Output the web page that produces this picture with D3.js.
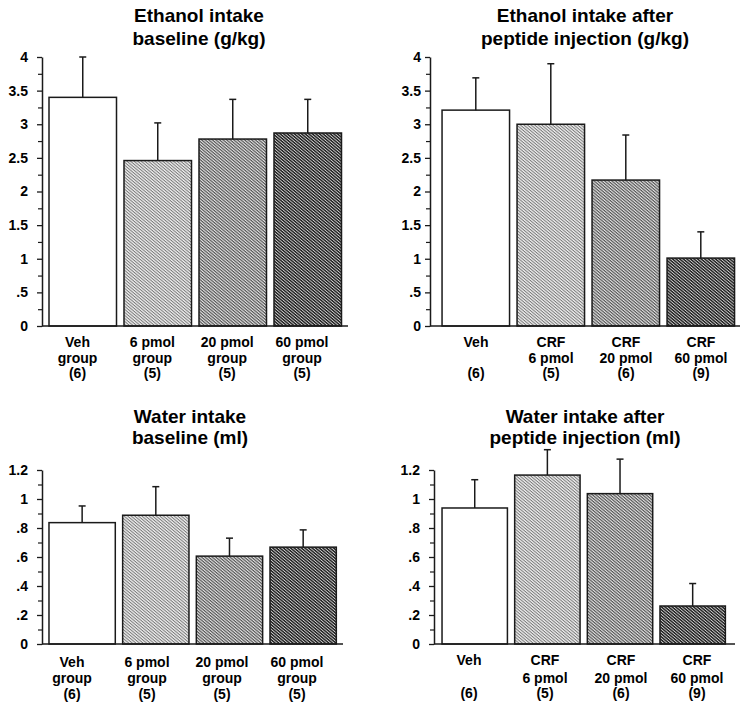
<!DOCTYPE html>
<html>
<head>
<meta charset="utf-8">
<script src="https://cdn.jsdelivr.net/npm/d3@7"></script>
<style>
  html, body { margin: 0; padding: 0; background: #fff; }
  svg { display: block; font-family: "Liberation Sans", Arial, Helvetica, sans-serif; }
</style>
</head>
<body>
<svg id="chart" width="746" height="710"></svg>
<script>
// ---------- data ----------
const categories = ["Veh", "6 pmol", "20 pmol", "60 pmol"];

const labelsBaseline = [["Veh", "group", "(6)"], ["6 pmol", "group", "(5)"], ["20 pmol", "group", "(5)"], ["60 pmol", "group", "(5)"]];
const labelsEthAfter = [["Veh", "", "(6)"], ["CRF", "6 pmol", "(5)"], ["CRF", "20 pmol", "(6)"], ["CRF", "60 pmol", "(9)"]];
const labelsWaterAfter = [["Veh", "", "(6)"], ["CRF", "6 pmol", "(5)"], ["CRF", "20 pmol", "(6)"], ["CRF", "60 pmol", "(9)"]];

const ethBaseMean = [3.40, 2.46, 2.78, 2.87];
const ethBaseSem  = [0.60, 0.56, 0.59, 0.50];
const ethAfterMean = [3.21, 3.00, 2.17, 1.01];
const ethAfterSem  = [0.48, 0.90, 0.67, 0.39];
const waterBaseMean = [0.837, 0.888, 0.606, 0.668];
const waterBaseSem  = [0.115, 0.197, 0.124, 0.119];
const waterAfterMean = [0.938, 1.165, 1.037, 0.262];
const waterAfterSem  = [0.195, 0.175, 0.238, 0.155];

const ethTicks = [0, 0.5, 1, 1.5, 2, 2.5, 3, 3.5, 4];
const ethTickLabels = ["0", ".5", "1", "1.5", "2", "2.5", "3", "3.5", "4"];
const ethMinor = [0.25, 0.75, 1.25, 1.75, 2.25, 2.75, 3.25, 3.75];
const waterTicks = [0, 0.2, 0.4, 0.6, 0.8, 1.0, 1.2];
const waterTickLabels = ["0", ".2", ".4", ".6", ".8", "1", "1.2"];
const waterMinor = [0.1, 0.3, 0.5, 0.7, 0.9, 1.1];

const titleEthBase = ["Ethanol intake", "baseline (g/kg)"];
const titleEthAfter = ["Ethanol intake after", "peptide injection (g/kg)"];
const titleWaterBase = ["Water intake", "baseline (ml)"];
const titleWaterAfter = ["Water intake after", "peptide injection (ml)"];

// ---------- drawing ----------
const svg = d3.select("#chart");
const defs = svg.append("defs");

function makePattern(id, bg, fg, sw) {
  const p = defs.append("pattern")
    .attr("id", id).attr("patternUnits", "userSpaceOnUse")
    .attr("width", 4).attr("height", 2.3)
    .attr("patternTransform", "rotate(40)");
  p.append("rect").attr("width", 4).attr("height", 2.3).attr("fill", bg);
  p.append("rect").attr("y", 0).attr("width", 4).attr("height", sw).attr("fill", fg);
}
makePattern("hatchLight", "#eeeeee", "#7a7a7a", 1.0);
makePattern("hatchMed", "#e0e0e0", "#555555", 1.15);
makePattern("hatchDark", "#cccccc", "#1a1a1a", 1.35);
const fills = ["#ffffff", "url(#hatchLight)", "url(#hatchMed)", "url(#hatchDark)"];

function panel(cfg) {
  const g = svg.append("g");
  const y = d3.scaleLinear().domain(cfg.domain).range([cfg.y0, cfg.y1]);
  const x = d3.scaleBand().domain(categories).range(cfg.xr).paddingInner(0.1).paddingOuter(0.05);
  const xl = d3.scalePoint().domain(categories).range(cfg.lr);

  // title
  cfg.title.forEach((t, i) => {
    g.append("text").attr("x", cfg.tx).attr("y", cfg.ty[i])
      .attr("text-anchor", "middle").attr("font-weight", "bold")
      .attr("font-size", 19).attr("fill", "#000").text(t);
  });

  // bars
  g.selectAll("rect.bar").data(cfg.mean).join("rect").attr("class", "bar")
    .attr("x", (d, i) => x(categories[i]))
    .attr("width", x.bandwidth())
    .attr("y", d => y(d))
    .attr("height", d => y(0) - y(d))
    .attr("fill", (d, i) => fills[i])
    .attr("stroke", "#1a1a1a").attr("stroke-width", 1.5);

  // error bars
  const eb = g.selectAll("g.err").data(cfg.mean).join("g").attr("class", "err");
  eb.append("line")
    .attr("x1", (d, i) => x(categories[i]) + x.bandwidth() / 2)
    .attr("x2", (d, i) => x(categories[i]) + x.bandwidth() / 2)
    .attr("y1", d => y(d))
    .attr("y2", (d, i) => y(d + cfg.sem[i]))
    .attr("stroke", "#1a1a1a").attr("stroke-width", 1.5);
  eb.append("line")
    .attr("x1", (d, i) => x(categories[i]) + x.bandwidth() / 2 - 3.5)
    .attr("x2", (d, i) => x(categories[i]) + x.bandwidth() / 2 + 3.5)
    .attr("y1", (d, i) => y(d + cfg.sem[i]))
    .attr("y2", (d, i) => y(d + cfg.sem[i]))
    .attr("stroke", "#1a1a1a").attr("stroke-width", 1.5);

  // y axis (major)
  const ax = d3.axisLeft(y).tickValues(cfg.ticks)
    .tickFormat((d, i) => cfg.tickLabels[i]).tickSize(5).tickSizeOuter(0).tickPadding(cfg.pad);
  const ag = g.append("g").attr("transform", `translate(${cfg.ax},0)`).call(ax);
  ag.select(".domain").attr("stroke", "#1a1a1a").attr("stroke-width", 1.5);
  ag.selectAll(".tick line").attr("stroke", "#1a1a1a").attr("stroke-width", 1.3);
  ag.selectAll(".tick text").attr("font-size", 14).attr("font-weight", "bold")
    .attr("fill", "#000").attr("font-family", "'Liberation Sans', Arial, sans-serif");
  // minor ticks
  const mn = d3.axisLeft(y).tickValues(cfg.minor).tickFormat("").tickSize(4).tickSizeOuter(0);
  const mg = g.append("g").attr("transform", `translate(${cfg.ax},0)`).call(mn);
  mg.select(".domain").remove();
  mg.selectAll(".tick line").attr("stroke", "#1a1a1a").attr("stroke-width", 1.2);

  // baseline
  g.append("line").attr("x1", cfg.ax).attr("x2", cfg.xEnd)
    .attr("y1", y(0)).attr("y2", y(0))
    .attr("stroke", "#1a1a1a").attr("stroke-width", 1.6);

  // x labels
  cfg.labels.forEach((lines, i) => {
    lines.forEach((t, j) => {
      if (!t) return;
      g.append("text").attr("x", xl(categories[i])).attr("y", cfg.ly[j])
        .attr("text-anchor", "middle").attr("font-weight", "bold")
        .attr("font-size", 14).attr("fill", "#000").text(t);
    });
  });
}

panel({
  domain: [0, 4], y0: 326, y1: 57, xr: [45.25, 345.25], lr: [77.5, 302],
  ax: 42, xEnd: 348, pad: 9, mean: ethBaseMean, sem: ethBaseSem,
  ticks: ethTicks, tickLabels: ethTickLabels, minor: ethMinor,
  title: titleEthBase, tx: 199, ty: [22, 45], labels: labelsBaseline, ly: [347, 362.5, 378]
});
panel({
  domain: [0, 4], y0: 326, y1: 57, xr: [438.3, 738.3], lr: [476, 701],
  ax: 430, xEnd: 740, pad: 4, mean: ethAfterMean, sem: ethAfterSem,
  ticks: ethTicks, tickLabels: ethTickLabels, minor: ethMinor,
  title: titleEthAfter, tx: 585, ty: [22, 45], labels: labelsEthAfter, ly: [347, 362.5, 378]
});
panel({
  domain: [0, 1.2], y0: 644, y1: 470, xr: [45.3, 340], lr: [72, 297],
  ax: 42, xEnd: 343, pad: 9, mean: waterBaseMean, sem: waterBaseSem,
  ticks: waterTicks, tickLabels: waterTickLabels, minor: waterMinor,
  title: titleWaterBase, tx: 190, ty: [423, 444], labels: labelsBaseline, ly: [666.5, 683, 698.5]
});
panel({
  domain: [0, 1.2], y0: 644, y1: 470, xr: [438.4, 729], lr: [469, 697],
  ax: 434, xEnd: 735, pad: 9, mean: waterAfterMean, sem: waterAfterSem,
  ticks: waterTicks, tickLabels: waterTickLabels, minor: waterMinor,
  title: titleWaterAfter, tx: 585, ty: [423, 444], labels: labelsWaterAfter, ly: [665, 682.5, 698]
});
</script>
</body>
</html>
